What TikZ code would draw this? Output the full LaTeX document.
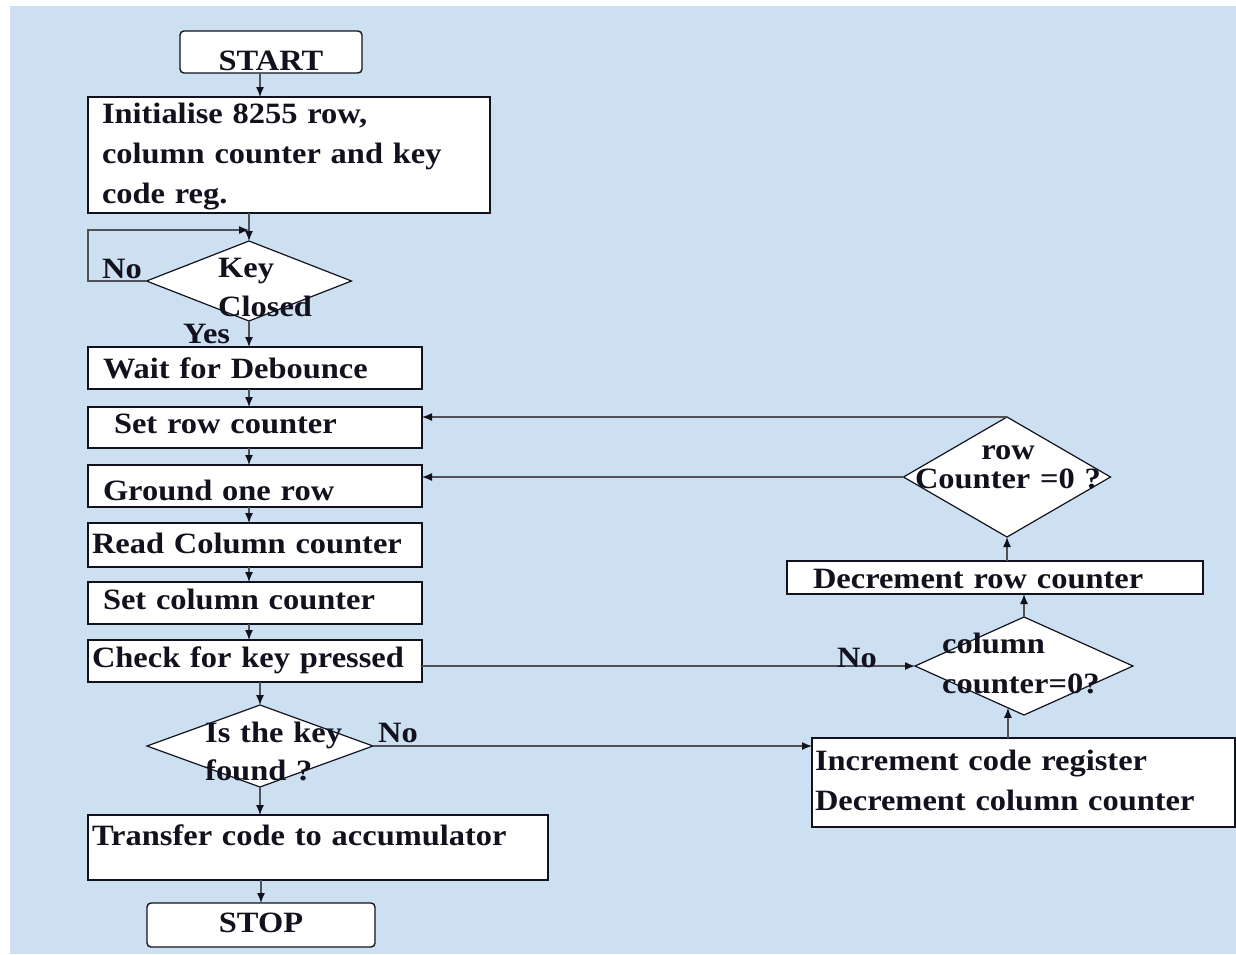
\documentclass[tikz,border=0pt]{standalone}
\usepackage{fontspec}
\setmainfont{Liberation Serif}[FakeStretch=1.1]
\usetikzlibrary{shapes.geometric,arrows.meta,calc}
\definecolor{bgblue}{RGB}{205,224,241}
\definecolor{ink}{RGB}{18,18,30}
\definecolor{lin}{RGB}{80,80,88}
\begin{document}
\begin{tikzpicture}[x=1pt,y=-1pt,
  every node/.style={font=\fontsize{29.5}{40}\selectfont\bfseries, text=ink},
  box/.style={draw=ink, line width=1.4pt, fill=white, rectangle, anchor=north west,
    inner ysep=0pt, outer sep=0pt, align=left},
  rbox/.style={box, rounded corners=4pt, align=center},
  dia/.style={draw=ink, line width=1.2pt, fill=white, diamond, inner sep=0pt, outer sep=0pt},
  dtext/.style={inner sep=0pt, anchor=base west, align=left, text width=#1},
  arr/.style={draw=lin, line width=1.3pt, -{Latex[length=10pt,width=8pt,color=ink]}},
  lbl/.style={inner sep=0pt, anchor=base west},
]
% background
\fill[white] (0,0) rectangle (1236,954);
\fill[bgblue] (10,6) rectangle (1236,954);
\useasboundingbox (0,0) rectangle (1236,954);

% boxes
\node[rbox, inner xsep=5pt, text width=172pt, text height=39pt, text depth=3pt] (start) at (180,31) {START};
\node[box, inner xsep=14pt, text width=374pt, text height=26pt, text depth=90pt] (init) at (88,97)
  {\mbox{Initialise 8255 row,}\\\mbox{column counter and key}\\\mbox{code reg.}};
\node[box, inner xsep=15pt, text width=304pt, text height=31pt, text depth=11pt] (wait) at (88,347) {\mbox{Wait for Debounce}};
\node[box, inner xsep=26pt, text width=282pt, text height=26pt, text depth=15pt] (setrow) at (88,407) {\mbox{Set row counter}};
\node[box, inner xsep=15pt, text width=304pt, text height=35pt, text depth=7pt] (ground) at (88,465) {\mbox{Ground one row}};
\node[box, inner xsep=4pt, text width=326pt, text height=30pt, text depth=14pt] (read) at (88,523) {\mbox{Read Column counter}};
\node[box, inner xsep=15pt, text width=304pt, text height=27pt, text depth=15pt] (setcol) at (88,582) {\mbox{Set column counter}};
\node[box, inner xsep=4pt, text width=326pt, text height=27pt, text depth=15pt] (check) at (88,640) {\mbox{Check for key pressed}};
\node[box, inner xsep=4pt, text width=452pt, text height=30pt, text depth=35pt] (transfer) at (88,815) {\mbox{Transfer code to accumulator}};
\node[rbox, inner xsep=5pt, text width=218pt, text height=29pt, text depth=15pt] (stop) at (147,903) {STOP};
\node[box, inner xsep=26pt, text width=364pt, text height=27pt, text depth=6pt] (decrow) at (787,561) {\mbox{Decrement row counter}};
\node[box, inner xsep=3pt, text width=417pt, text height=32pt, text depth=57pt] (inc) at (812,738)
  {\mbox{Increment code register}\\\mbox{Decrement column counter}};

% decisions
\node[dia, minimum width=205pt, minimum height=80pt] (kc) at (249,281) {};
\node[dia, minimum width=226pt, minimum height=82pt] (isk) at (260,746) {};
\node[dia, minimum width=218pt, minimum height=98pt] (col) at (1024,666) {};
\node[dia, minimum width=207pt, minimum height=120pt] (row) at (1007,477) {};

% connectors
\draw[arr] (start.south -| isk.north) -- (init.north -| isk.north);
\draw[arr] (init.south -| kc.north) -- (kc.north);
\draw[arr] (kc.west) -- (kc.west -| init.west) |- ($(kc.north)+(0,-11)$);
\draw[arr] (kc.south) -- (wait.north -| kc.south);
\draw[arr] (wait.south -| kc.south) -- (setrow.north -| kc.south);
\draw[arr] (setrow.south -| kc.south) -- (ground.north -| kc.south);
\draw[arr] (ground.south -| kc.south) -- (read.north -| kc.south);
\draw[arr] (read.south -| kc.south) -- (setcol.north -| kc.south);
\draw[arr] (setcol.south -| kc.south) -- (check.north -| kc.south);
\draw[arr] (check.south -| isk.north) -- (isk.north);
\draw[arr] (isk.south) -- (transfer.north -| isk.south);
\draw[arr] (transfer.south -| stop.north) -- (stop.north);
\draw[arr] (isk.east) -- (isk.east -| inc.west);
\draw[arr] (inc.north -| col.249) -- (col.249);
\draw[arr] (col.west -| check.east) -- (col.west);
\draw[arr] (col.north) -- (col.north |- decrow.south);
\draw[arr] (decrow.north -| row.south) -- (row.south);
\draw[arr] (row.north) -- (row.north -| setrow.east);
\draw[arr] (row.west) -- (row.west -| ground.east);

% decision texts
\node[dtext=140pt, font=\fontsize{29.5}{39}\selectfont\bfseries] (kct) at (218,277) {Key\\Closed};
\node[dtext=160pt, font=\fontsize{29.5}{38}\selectfont\bfseries] (iskt) at (205,742) {Is the key\\found ?};
\node[dtext=170pt, font=\fontsize{29.5}{40}\selectfont\bfseries] (colt) at (942,653) {column\\counter=0?};
\node[inner sep=0pt, anchor=base, align=center, text width=200pt, font=\fontsize{29.5}{29}\selectfont\bfseries] (rowt) at (1008,459) {row\\Counter =0 ?};

% labels
\node[lbl] (no1) at (102,278) {No};
\node[lbl] (yes) at (183,343) {Yes};
\node[lbl] (no2) at (378,742) {No};
\node[lbl] (no3) at (837,667) {No};
\end{tikzpicture}
\end{document}
